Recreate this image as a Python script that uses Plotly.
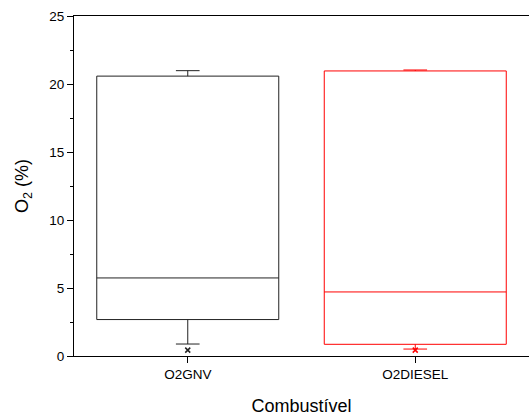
import plotly.graph_objects as go

categories = ["O2GNV", "O2DIESEL"]
q1 = [2.68, 0.86]
median = [5.74, 4.71]
q3 = [20.58, 20.96]
lower_whisker = [0.88, 0.51]
upper_whisker = [20.98, 21.03]
minimum = [0.43, 0.43]
colors = ["#222222", "#ff0000"]

fig = go.Figure()
for i, cat in enumerate(categories):
    fig.add_trace(go.Box(
        x=[cat], q1=[q1[i]], median=[median[i]], q3=[q3[i]],
        lowerfence=[lower_whisker[i]], upperfence=[upper_whisker[i]],
        width=0.8, whiskerwidth=0.13,
        line=dict(color=colors[i], width=1),
        fillcolor="rgba(0,0,0,0)", showlegend=False, hoverinfo="skip",
    ))
    fig.add_trace(go.Scatter(
        x=[cat], y=[minimum[i]], mode="markers",
        marker=dict(symbol="x-thin", size=5, line=dict(color=colors[i], width=1.5)),
        showlegend=False, hoverinfo="skip",
    ))

fig.update_layout(
    width=529, height=418,
    margin=dict(l=74, r=0, t=16, b=62),
    plot_bgcolor="white", paper_bgcolor="white",
    font=dict(family="Liberation Sans, Arial, sans-serif", size=13.5, color="black"),
    xaxis=dict(
        categoryorder="array", categoryarray=categories,
        range=[-0.5, 1.5],
        showline=True, linecolor="black", linewidth=1, mirror=True,
        ticks="outside", ticklen=6, tickcolor="black",
        showgrid=False, zeroline=False,
        title=dict(text="Combustível", font=dict(size=18), standoff=18),
    ),
    yaxis=dict(
        range=[0, 25], dtick=5,
        showline=True, linecolor="black", linewidth=1,
        ticks="outside", ticklen=6, tickcolor="black",
        minor=dict(dtick=2.5, ticks="outside", ticklen=3, tickcolor="black"),
        showgrid=False, zeroline=False,
        title=dict(text="O<sub>2</sub> (%)", font=dict(size=18), standoff=15),
    ),
)

fig.write_html("out.html", config={"displayModeBar": False},
               post_script="document.body.style.margin='0px';document.body.style.overflow='hidden';")
